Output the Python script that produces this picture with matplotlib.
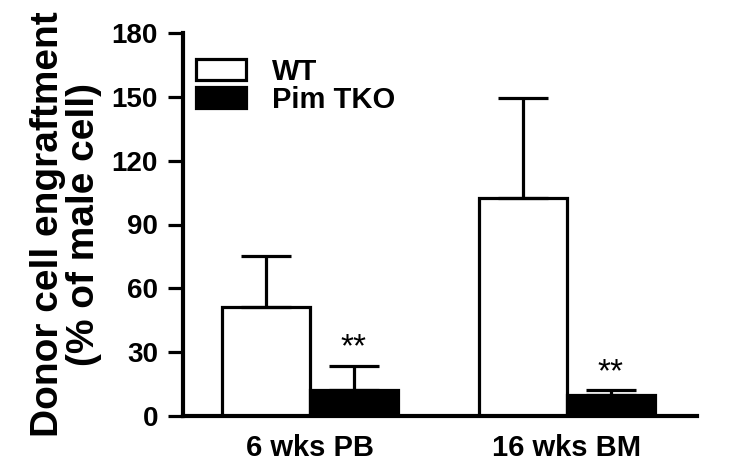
import numpy as np
import matplotlib
matplotlib.use("Agg")
import matplotlib.pyplot as plt

plt.rcParams['font.family'] = ['Liberation Sans', 'DejaVu Sans']
plt.rcParams['font.weight'] = 'bold'

# Данные
groups = ['6 wks PB', '16 wks BM']
series = ['WT', 'Pim TKO']
wt_mean = [51, 102.5]
wt_err = [24, 47]
tko_mean = [12, 10]
tko_err = [11.5, 2]
stars = ['**', '**']
yticks = [0, 30, 60, 90, 120, 150, 180]

fig = plt.figure(figsize=(7.41, 4.68), dpi=100)
ax = fig.add_axes([183 / 741, 1 - 416 / 468, 514 / 741, 383 / 468])

x = np.arange(len(groups))
w = 0.342
lw = 2.3

ax.bar(x - w / 2, wt_mean, w, color='white', edgecolor='black',
       linewidth=lw, label=series[0], zorder=2)
ax.bar(x + w / 2, tko_mean, w, color='black', edgecolor='black',
       linewidth=lw, label=series[1], zorder=2)

ax.errorbar(x - w / 2, wt_mean, yerr=[[0] * len(wt_err), wt_err], fmt='none',
            ecolor='black', elinewidth=lw, capsize=18, capthick=lw, zorder=3)
ax.errorbar(x + w / 2, tko_mean, yerr=[[0] * len(tko_err), tko_err], fmt='none',
            ecolor='black', elinewidth=lw, capsize=18, capthick=lw, zorder=3)

# звёздочки над столбцами TKO
for xi, m, e, s in zip(x, tko_mean, tko_err, stars):
    ax.text(xi + w / 2, m + e + 8.5, s, ha='center', va='center',
            fontsize=24, fontweight='normal')

# Настройка осей
ax.set_xlim(-0.494, 1.506)
ax.set_ylim(0, 180)
ax.set_yticks(yticks)
ax.set_xticks(x)
ax.set_xticklabels(groups, fontsize=21, fontweight='bold')
ax.tick_params(axis='y', labelsize=20, width=2.3, length=11, pad=7)
ax.tick_params(axis='x', length=0, pad=13)
for lab in ax.get_yticklabels():
    lab.set_fontweight('bold')
for side in ['top', 'right']:
    ax.spines[side].set_visible(False)
for side in ['left', 'bottom']:
    ax.spines[side].set_linewidth(3)

ax.set_ylabel('Donor cell engraftment\n(% of male cell)', fontsize=28,
              fontweight='bold', linespacing=1.0, labelpad=7)

ax.legend(loc='upper left', bbox_to_anchor=(0.026, 0.935), frameon=False,
          fontsize=21, handlelength=1.7, handleheight=0.7, handletextpad=0.9,
          labelspacing=0.0, borderpad=0, borderaxespad=0)

plt.savefig('out.png', dpi=100)
